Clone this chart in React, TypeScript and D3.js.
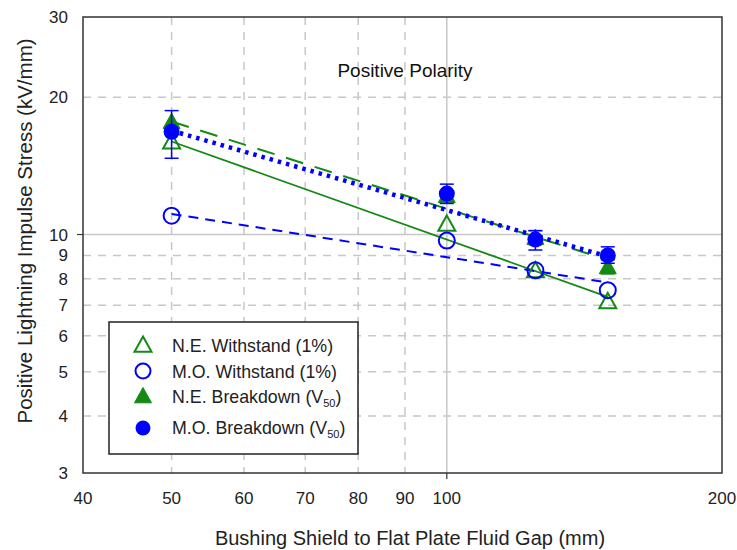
import React from "react";
import * as d3 from "d3";

// Data (gap in mm, stress in kV/mm)
const gaps = [50, 100, 125, 150];
const neWithstand = [15.9, 10.5, 8.3, 7.1];
const moWithstand = [11.0, 9.7, 8.35, 7.55];
const neBreakdown = [17.6, 12.1, 9.8, 8.45];
const moBreakdown = [16.8, 12.3, 9.75, 9.0];
const moBreakdownHi = [18.7, 12.9, 10.2, 9.4];
const moBreakdownLo = [14.7, 11.7, 9.25, 8.65];
const neBreakdownErrX = [125, 150];
const neBreakdownHi = [10.2, 8.8];
const neBreakdownLo = [9.5, 8.2];

// Fitted trend lines (end points)
const fitX = [50, 150];
const neWithstandFit = [16.0, 7.3];
const moWithstandFit = [11.1, 7.85];
const neBreakdownFit = [17.7, 8.8];
const moBreakdownFit = [16.9, 8.95];

const xTicks = [40, 50, 60, 70, 80, 90, 100, 200];
const yTicks = [3, 4, 5, 6, 7, 8, 9, 10, 20, 30];
const xGridDashed = [50, 60, 70, 80, 90];
const yGridDashed = [4, 5, 6, 7, 8, 9, 20];

const GREEN = "#148a14";
const BLUE = "#0000ff";
const GRID = "#c8c8c8";
const FONT = "Liberation Sans, Arial, sans-serif";

const L = 83, R = 722, T = 17, B = 473;

export default function App() {
  const x = d3.scaleLog().domain([40, 200]).range([L, R]);
  const y = d3.scaleLog().domain([3, 30]).range([B, T]);
  const line = d3
    .line<[number, number]>()
    .x((d) => x(d[0]))
    .y((d) => y(d[1]));
  const fit = (vals: number[]) => line(fitX.map((g, i) => [g, vals[i]] as [number, number])) || "";

  const tri = (cx: number, cy: number, s: number) => {
    const h = s * 0.9;
    return `M${cx},${cy - h * 0.62}L${cx + s / 2},${cy + h * 0.38}L${cx - s / 2},${cy + h * 0.38}Z`;
  };

  const errBar = (gx: number, hi: number, lo: number, color: string, key: string) => (
    <g key={key} stroke={color} strokeWidth={1.5}>
      <line x1={x(gx)} x2={x(gx)} y1={y(hi)} y2={y(lo)} />
      <line x1={x(gx) - 7} x2={x(gx) + 7} y1={y(hi)} y2={y(hi)} />
      <line x1={x(gx) - 7} x2={x(gx) + 7} y1={y(lo)} y2={y(lo)} />
    </g>
  );

  return (
    <svg
      width={737}
      height={550}
      style={{ position: "absolute", left: 0, top: 0, background: "#fff" }}
      fontFamily={FONT}
    >
      {/* grid */}
      {xGridDashed.map((v) => (
        <line key={"gx" + v} x1={x(v)} x2={x(v)} y1={T} y2={B} stroke={GRID} strokeWidth={1.5} strokeDasharray="8,7" />
      ))}
      {yGridDashed.map((v) => (
        <line key={"gy" + v} x1={L} x2={R} y1={y(v)} y2={y(v)} stroke={GRID} strokeWidth={1.5} strokeDasharray="8,7" />
      ))}
      <line x1={x(100)} x2={x(100)} y1={T} y2={B + 6} stroke={GRID} strokeWidth={1.5} />
      <line x1={L - 6} x2={R} y1={y(10)} y2={y(10)} stroke={GRID} strokeWidth={1.5} />
      <line x1={x(100)} x2={x(100)} y1={B} y2={B + 6} stroke="#333" strokeWidth={1} />
      <line x1={L - 6} x2={L} y1={y(10)} y2={y(10)} stroke="#333" strokeWidth={1} />

      {/* frame */}
      <rect x={L} y={T} width={R - L} height={B - T} fill="none" stroke="#333" strokeWidth={1.5} />

      {/* tick labels */}
      {yTicks.map((v) => (
        <text key={"yt" + v} x={68} y={y(v) + 6} textAnchor="end" fontSize={17} fill="#222">
          {v}
        </text>
      ))}
      {xTicks.map((v) => (
        <text key={"xt" + v} x={x(v)} y={504} textAnchor="middle" fontSize={17} fill="#222">
          {v}
        </text>
      ))}

      {/* axis titles */}
      <text x={410} y={545} textAnchor="middle" fontSize={20} fill="#222">
        Bushing Shield to Flat Plate Fluid Gap (mm)
      </text>
      <text
        transform={`translate(32,231) rotate(-90)`}
        textAnchor="middle"
        fontSize={20.5}
        fill="#222"
      >
        Positive Lightning Impulse Stress (kV/mm)
      </text>
      <text x={405} y={77} textAnchor="middle" fontSize={19} fill="#111">
        Positive Polarity
      </text>

      {/* fit lines */}
      <path d={fit(neWithstandFit)} fill="none" stroke={GREEN} strokeWidth={1.8} />
      <path d={fit(neBreakdownFit)} fill="none" stroke={GREEN} strokeWidth={2} strokeDasharray="18,12" />
      <path d={fit(moWithstandFit)} fill="none" stroke={BLUE} strokeWidth={2} strokeDasharray="10,7" />
      <path d={fit(moBreakdownFit)} fill="none" stroke={BLUE} strokeWidth={4.5} strokeDasharray="3.5,5" />

      {/* error bars */}
      {neBreakdownErrX.map((g, i) => errBar(g, neBreakdownHi[i], neBreakdownLo[i], GREEN, "ne" + i))}

      {/* markers */}
      {gaps.map((g, i) => (
        <path key={"ow" + i} d={tri(x(g), y(neWithstand[i]), 17)} fill="none" stroke={GREEN} strokeWidth={2} />
      ))}
      {gaps.map((g, i) => (
        <circle key={"mw" + i} cx={x(g)} cy={y(moWithstand[i])} r={8} fill="none" stroke={BLUE} strokeWidth={2} />
      ))}
      {gaps.map((g, i) => (
        <path key={"nb" + i} d={tri(x(g), y(neBreakdown[i]), 17)} fill={GREEN} stroke={GREEN} strokeWidth={1} />
      ))}
      {gaps.map((g, i) => errBar(g, moBreakdownHi[i], moBreakdownLo[i], BLUE, "mo" + i))}
      {gaps.map((g, i) => (
        <circle key={"mb" + i} cx={x(g)} cy={y(moBreakdown[i])} r={8} fill={BLUE} />
      ))}

      {/* legend */}
      <rect x={109} y={322} width={249} height={132} fill="#fff" stroke="#222" strokeWidth={1.5} />
      <path d={tri(143, 346, 17)} fill="none" stroke={GREEN} strokeWidth={2} />
      <circle cx={143} cy={371} r={7.5} fill="none" stroke={BLUE} strokeWidth={2} />
      <path d={tri(143, 397, 17)} fill={GREEN} stroke={GREEN} />
      <circle cx={143} cy={428} r={7.5} fill={BLUE} />
      <g fontSize={17.8} fill="#222">
        <text x={172} y={352}>N.E. Withstand (1%)</text>
        <text x={172} y={378}>M.O. Withstand (1%)</text>
        <text x={172} y={403}>
          N.E. Breakdown (V<tspan fontSize={11} dy={4}>50</tspan>
          <tspan dy={-4}>)</tspan>
        </text>
        <text x={172} y={434}>
          M.O. Breakdown (V<tspan fontSize={11} dy={4}>50</tspan>
          <tspan dy={-4}>)</tspan>
        </text>
      </g>
    </svg>
  );
}
